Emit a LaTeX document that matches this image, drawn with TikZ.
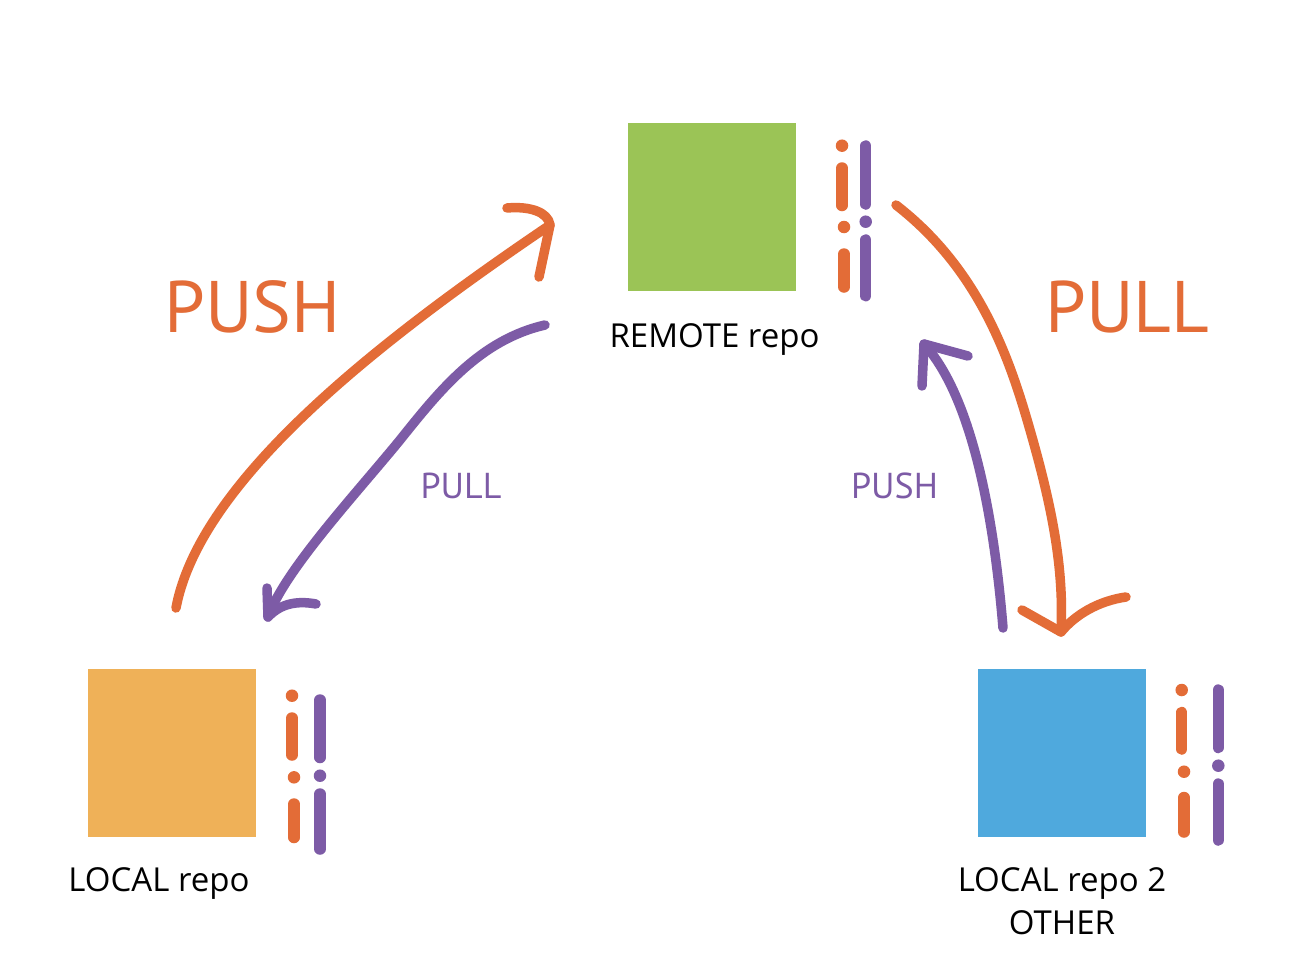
\documentclass[tikz,border=0pt]{standalone}
\usepackage{fontspec}
\setmainfont{PT Sans}
\newfontfamily\lblfont{Open Sans}
\definecolor{cOrange}{HTML}{E36C37}
\definecolor{cPurple}{HTML}{7D5BA6}
\definecolor{cGreen}{HTML}{9BC456}
\definecolor{cYellow}{HTML}{EFB158}
\definecolor{cBlue}{HTML}{4FA9DD}
\tikzset{
  sq/.style={draw=none, minimum size=168pt, inner sep=0pt, outer sep=0pt},
  arr/.style={line width=9.5pt, line cap=round, line join=round},
  bar/.style={line width=11.5pt, line cap=round},
  dotc/.style={circle, inner sep=0pt, minimum size=12.5pt, draw=none},
  lbl/.style={anchor=base, inner sep=0pt, text=black, font=\lblfont\fontsize{33}{38}\selectfont},
  big/.style={anchor=base, inner sep=0pt, text=cOrange, font=\fontsize{73}{80}\selectfont},
  small/.style={anchor=base, inner sep=0pt, text=cPurple, font=\fontsize{36}{40}\selectfont},
}
\begin{document}
\begin{tikzpicture}[x=1pt, y=-1pt]
\useasboundingbox (0,0) rectangle (1314,974);
\fill[white] (0,0) rectangle (1314,974);

% squares
\node[sq, fill=cGreen] (remote) at (712,207) {};
\node[sq, fill=cYellow] (local) at (172,753) {};
\node[sq, fill=cBlue] (local2) at (1062,753) {};

% labels
\node[lbl] (remotelbl) at (714.5,347) {REMOTE repo};
\node[lbl] (locallbl) at (159,891) {LOCAL repo};
\node[lbl] (local2lbl) at (1062,891) {LOCAL repo 2};
\node[lbl] (otherlbl) at (1062,934) {OTHER};
\node[big] (bigpush) at (252.5,332) {PUSH};
\node[big] (bigpull) at (1127.5,332) {PULL};
\node[small] (smallpull) at (461,498) {PULL};
\node[small] (smallpush) at (894.5,498) {PUSH};

% bars next to remote
\node[dotc, fill=cOrange] (rd1) at (842,145.7) {};
\draw[bar, cOrange] (842,168) -- (842,205.5);
\node[dotc, fill=cOrange] (rd2) at (844,227) {};
\draw[bar, cOrange] (844,254) -- (844,287);
\draw[bar, cPurple] (865.7,146) -- (865.7,204);
\node[dotc, fill=cPurple] (rd3) at (865.7,221.7) {};
\draw[bar, cPurple] (865.7,240) -- (865.7,295.7);

% bars next to local
\node[dotc, fill=cOrange] (ld1) at (292,695.7) {};
\draw[bar, cOrange] (292,718) -- (292,755);
\node[dotc, fill=cOrange] (ld2) at (294,777.3) {};
\draw[bar, cOrange] (294,804) -- (294,837.5);
\draw[bar, cPurple] (320,700) -- (320,757.5);
\node[dotc, fill=cPurple] (ld3) at (320,775.7) {};
\draw[bar, cPurple] (320,794) -- (320,849);

% bars next to local2
\node[dotc, fill=cOrange] (bd1) at (1181.7,690) {};
\draw[bar, cOrange] (1181.7,712.5) -- (1181.7,749);
\node[dotc, fill=cOrange] (bd2) at (1184,771.7) {};
\draw[bar, cOrange] (1184,797.5) -- (1184,832);
\draw[bar, cPurple] (1218.3,690) -- (1218.3,747.5);
\node[dotc, fill=cPurple] (bd3) at (1218.3,765.7) {};
\draw[bar, cPurple] (1218.3,784) -- (1218.3,840);

% arrow end coordinates
\coordinate (pushS) at (176,608);
\coordinate (pushT) at (550,225);
\coordinate (pullS) at (545,325);
\coordinate (pullT) at (268,617);
\coordinate (rpullS) at (896,205);
\coordinate (rpullT) at (1061,632);
\coordinate (rpushS) at (1003,628);
\coordinate (rpushT) at (924,344);

% orange PUSH (local -> remote)
\draw[arr, cOrange] (pushS) .. controls (200,480) and (380,340) .. (pushT);
\draw[arr, cOrange] (507,208) .. controls (530,206) and (548,212) .. (pushT) -- (539,277);

% purple PULL (remote -> local)
\draw[arr, cPurple] (pullS) .. controls (480,340) and (440,390) .. (400,440)
  .. controls (355,495) and (285,570) .. (pullT);
\draw[arr, cPurple] (267,588) -- (pullT) .. controls (282,602) and (300,601) .. (316,604);

% orange PULL (remote -> local2)
\draw[arr, cOrange] (rpullS) .. controls (980,270) and (1010,360) .. (1030,430)
  .. controls (1053,510) and (1064,570) .. (rpullT);
\draw[arr, cOrange] (1022,610) -- (rpullT) .. controls (1075,615) and (1098,601) .. (1126,597);

% purple PUSH (local2 -> remote)
\draw[arr, cPurple] (rpushS) .. controls (995,530) and (975,400) .. (rpushT);
\draw[arr, cPurple] (922,386) -- (rpushT) -- (968,356);
\end{tikzpicture}
\end{document}
